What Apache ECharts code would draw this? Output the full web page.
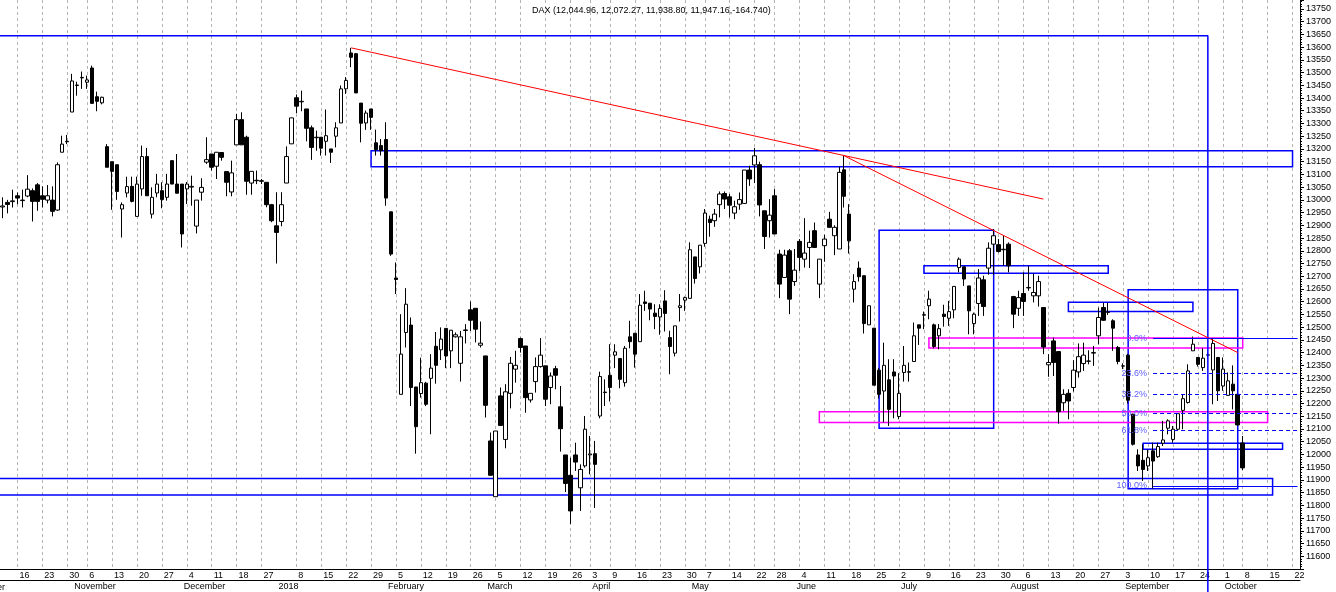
<!DOCTYPE html>
<html>
<head>
<meta charset="utf-8">
<script src="https://cdn.jsdelivr.net/npm/echarts@6.0.0/dist/echarts.min.js"></script>
<style>
    html, body {margin: 0; padding: 0; background: #fff;}
    #chart {width: 1336px; height: 592px;}
</style>
</head>
<body>
<div id="chart"></div>
<script>
// exchange holidays (no candle on these days)
var holidays = ['2017-10-31', '2017-12-25', '2017-12-26', '2018-01-01', '2018-03-30',
    '2018-04-02', '2018-05-01', '2018-05-21', '2018-10-03'];
var noWeekMark = ['2018-01-02'];
var monthNames = ['January', 'February', 'March', 'April', 'May', 'June', 'July',
    'August', 'September', 'October', 'November', 'December'];

// daily DAX candles from 2017-10-11, [open, close, low, high]
var candles = [
    [12972, 12976, 12928, 13010], [12990, 12982, 12947, 13000], [12993, 12996, 12970, 13040],
    [13016, 13007, 12983, 13029], [12997, 12999, 12970, 13040], [13015, 13042, 13010, 13097],
    [13036, 12994, 12915, 13045], [13059, 12994, 12957, 13066], [13016, 13002, 12970, 13053],
    [12999, 13016, 12986, 13058], [12999, 12955, 12935, 13053], [12960, 13138, 12957, 13147],
    [13187, 13219, 13187, 13252], [13228, 13230, 13219, 13255], [13345, 13467, 13345, 13495],
    [13451, 13449, 13409, 13464], [13479, 13481, 13436, 13504], [13462, 13471, 13436, 13488],
    [13518, 13379, 13377, 13527], [13405, 13387, 13348, 13425], [13381, 13403, 13375, 13405],
    [13209, 13128, 13128, 13219], [13150, 13112, 12961, 13150], [13138, 13033, 13000, 13138],
    [12964, 12981, 12852, 12990], [13027, 13052, 13010, 13091], [13053, 12994, 12990, 13091],
    [12935, 13062, 12935, 13091], [13043, 13170, 13016, 13213], [13170, 13016, 13016, 13204],
    [12944, 13010, 12927, 13049], [13027, 13062, 13010, 13102], [13036, 13001, 12967, 13069],
    [13010, 13062, 12997, 13102], [13154, 13062, 13062, 13154], [13062, 13026, 13026, 13180],
    [13062, 12866, 12813, 13062], [13043, 13062, 12984, 13070], [13050, 13053, 12977, 13095],
    [12897, 12999, 12868, 12999], [13030, 13049, 12997, 13085], [13148, 13158, 13141, 13246],
    [13180, 13128, 13115, 13180], [13132, 13187, 13082, 13187], [13186, 13167, 13154, 13186],
    [13111, 13069, 13014, 13111], [13031, 13106, 13014, 13154], [13216, 13315, 13216, 13338],
    [13315, 13216, 13216, 13344], [13246, 13073, 13020, 13252], [13066, 13112, 13020, 13112],
    [13077, 13075, 13062, 13115], [13075, 13073, 13062, 13082], [13069, 12981, 12971, 13069],
    [12981, 12918, 12912, 12984], [12898, 12872, 12750, 13030], [12915, 12981, 12896, 13030],
    [13066, 13170, 13066, 13210], [13220, 13322, 13220, 13322], [13401, 13368, 13340, 13414],
    [13385, 13387, 13348, 13429], [13357, 13281, 13230, 13357], [13283, 13206, 13157, 13292],
    [13244, 13246, 13193, 13272], [13246, 13203, 13174, 13246], [13230, 13252, 13174, 13355],
    [13200, 13187, 13145, 13200], [13250, 13283, 13206, 13305], [13302, 13436, 13302, 13449],
    [13436, 13469, 13416, 13482], [13577, 13560, 13521, 13597], [13574, 13420, 13420, 13577],
    [13380, 13301, 13226, 13380], [13302, 13341, 13275, 13351], [13357, 13324, 13275, 13357],
    [13224, 13197, 13174, 13276], [13213, 13193, 13174, 13239], [13237, 13007, 12977, 13305],
    [12953, 12787, 12780, 12953], [12693, 12687, 12630, 12754], [12236, 12394, 12236, 12551],
    [12479, 12590, 12420, 12653], [12508, 12263, 12190, 12538], [12265, 12109, 12003, 12265],
    [12239, 12282, 12223, 12380], [12280, 12197, 12190, 12285], [12299, 12339, 12079, 12394],
    [12425, 12350, 12278, 12481], [12411, 12453, 12371, 12499], [12495, 12387, 12339, 12495],
    [12407, 12488, 12339, 12488], [12462, 12470, 12459, 12479], [12358, 12462, 12286, 12485],
    [12487, 12489, 12436, 12512], [12568, 12527, 12485, 12601], [12574, 12492, 12440, 12574],
    [12429, 12437, 12420, 12522], [12387, 12193, 12145, 12387], [12053, 11918, 11918, 12086],
    [11834, 12092, 11834, 12092], [12230, 12114, 12114, 12263], [12059, 12246, 12024, 12276],
    [12240, 12358, 12181, 12383], [12335, 12350, 12282, 12407], [12455, 12420, 12400, 12459],
    [12426, 12223, 12164, 12426], [12214, 12240, 12204, 12240], [12286, 12345, 12243, 12381],
    [12345, 12390, 12341, 12457], [12348, 12217, 12190, 12348], [12263, 12308, 12197, 12322],
    [12337, 12311, 12256, 12348], [12187, 12101, 12011, 12269], [11998, 11886, 11852, 11998],
    [11918, 11778, 11727, 11987], [11998, 11970, 11935, 12046], [11869, 11941, 11778, 11961],
    [11955, 12099, 11948, 12151], [11998, 12002, 11922, 12073], [12003, 11961, 11790, 12053],
    [12151, 12306, 12142, 12325], [12245, 12243, 12190, 12295], [12311, 12263, 12208, 12433],
    [12390, 12403, 12339, 12433], [12377, 12295, 12260, 12377], [12282, 12417, 12266, 12426],
    [12462, 12443, 12417, 12525], [12476, 12394, 12341, 12476], [12443, 12586, 12443, 12630],
    [12599, 12593, 12564, 12643], [12594, 12571, 12527, 12594], [12555, 12542, 12492, 12590],
    [12540, 12573, 12470, 12590], [12603, 12554, 12483, 12645], [12459, 12424, 12315, 12486],
    [12398, 12505, 12385, 12505], [12577, 12584, 12522, 12630], [12606, 12616, 12564, 12620],
    [12613, 12804, 12613, 12833], [12776, 12691, 12671, 12776], [12737, 12822, 12711, 12822],
    [12829, 12948, 12816, 12964], [12924, 12911, 12855, 12938], [12918, 12944, 12894, 12964],
    [12981, 13023, 12931, 13033], [13025, 13003, 12964, 13033], [13012, 12979, 12931, 13023],
    [12948, 12973, 12924, 12997], [12983, 13001, 12961, 13029], [12986, 13117, 12986, 13117],
    [13117, 13082, 13055, 13134], [13137, 13173, 13066, 13204], [13138, 12980, 12935, 13150],
    [12957, 12856, 12807, 12957], [12918, 12940, 12852, 13003], [13016, 12866, 12866, 13042],
    [12787, 12669, 12614, 12804], [12695, 12783, 12695, 12804], [12800, 12610, 12551, 12807],
    [12679, 12724, 12662, 12807], [12837, 12774, 12721, 12846], [12767, 12791, 12734, 12928],
    [12813, 12833, 12732, 12879], [12879, 12813, 12813, 12911], [12669, 12767, 12614, 12767],
    [12820, 12846, 12757, 12863], [12924, 12892, 12892, 12953], [12859, 12892, 12783, 12900],
    [12807, 13108, 12807, 13130], [13118, 13014, 12970, 13173], [12944, 12839, 12789, 12983],
    [12649, 12679, 12597, 12708], [12732, 12698, 12679, 12758], [12702, 12514, 12475, 12702],
    [12509, 12584, 12509, 12584], [12496, 12272, 12272, 12496], [12331, 12236, 12220, 12340],
    [12249, 12350, 12125, 12439], [12293, 12177, 12112, 12374], [12324, 12308, 12142, 12374],
    [12149, 12240, 12138, 12319], [12322, 12350, 12286, 12426], [12323, 12325, 12286, 12361],
    [12365, 12466, 12365, 12518], [12509, 12496, 12430, 12509], [12547, 12549, 12492, 12561],
    [12584, 12610, 12531, 12643], [12509, 12424, 12417, 12514], [12466, 12494, 12413, 12512],
    [12551, 12542, 12502, 12588], [12535, 12561, 12505, 12603], [12568, 12660, 12535, 12660],
    [12734, 12767, 12715, 12774], [12737, 12689, 12662, 12737], [12662, 12564, 12472, 12662],
    [12514, 12551, 12472, 12557], [12593, 12693, 12544, 12728], [12686, 12581, 12544, 12702],
    [12732, 12810, 12706, 12833], [12826, 12859, 12706, 12885], [12824, 12797, 12793, 12846],
    [12804, 12806, 12741, 12859], [12826, 12741, 12715, 12833], [12620, 12551, 12496, 12623],
    [12574, 12616, 12544, 12643], [12632, 12601, 12544, 12715], [12654, 12656, 12643, 12741],
    [12623, 12636, 12597, 12711], [12623, 12679, 12581, 12702], [12577, 12422, 12394, 12577],
    [12352, 12361, 12305, 12394], [12446, 12361, 12308, 12459], [12404, 12168, 12121, 12404],
    [12203, 12236, 12171, 12256], [12240, 12210, 12138, 12256], [12263, 12331, 12247, 12370],
    [12324, 12384, 12302, 12436], [12357, 12390, 12328, 12439], [12366, 12367, 12354, 12409],
    [12398, 12400, 12348, 12426], [12466, 12538, 12433, 12577], [12577, 12527, 12525, 12597],
    [12558, 12560, 12548, 12597], [12525, 12496, 12407, 12531], [12420, 12365, 12354, 12426],
    [12347, 12348, 12335, 12358], [12390, 12213, 12200, 12395], [12158, 12040, 12035, 12160],
    [11998, 11955, 11935, 12020], [11977, 11941, 11896, 12040], [11955, 11987, 11935, 12020],
    [12014, 11974, 11866, 12046], [11991, 12031, 11987, 12046], [12044, 12057, 12033, 12132],
    [12103, 12132, 12079, 12138], [12059, 12099, 12046, 12112], [12099, 12160, 12092, 12160],
    [12173, 12219, 12099, 12236], [12204, 12328, 12200, 12354], [12407, 12433, 12407, 12463],
    [12381, 12354, 12345, 12381], [12341, 12378, 12328, 12417], [12390, 12391, 12380, 12400],
    [12332, 12436, 12197, 12457], [12381, 12250, 12210, 12381], [12269, 12335, 12250, 12381],
    [12232, 12289, 12230, 12322], [12276, 12250, 12177, 12350], [12236, 12116, 12112, 12236],
    [12044.96, 11947.16, 11938.80, 12072.27]
];

// drawings on the chart, as [date, price] pairs
var trendLines = [
    [['2018-01-23', 13597], ['2018-08-10', 13003]],
    [['2018-06-15', 13173], ['2018-10-05', 12400]]
];
var blueBoxes = [
    [['2018-01-29', 13193], ['2018-10-22', 13130]],
    [['2018-07-09', 12741], ['2018-08-29', 12712]],
    [['2018-08-17', 12598], ['2018-09-21', 12561]],
    [['2018-06-26', 12881], ['2018-07-27', 12103]],
    [['2018-09-04', 12647], ['2018-10-05', 11865]],
    [['2018-09-07', 12044], ['2018-10-18', 12020]],
    [['2017-10-10', 11905], ['2018-10-16', 11841]]
];
var pinkBoxes = [
    [['2018-07-10', 12457], ['2018-10-08', 12418]],
    [['2018-06-08', 12168], ['2018-10-15', 12125]]
];
var frameLine = [['2017-10-10', 13645], ['2018-09-26', 13645], ['2018-09-26', 11460]];
var fibStart = '2018-09-11';
var fibEnd = '2018-10-23';
var fibLevels = [12457, 12318, 12236, 12162, 12095, 11876];
var fibNames = ['0.0%', '23.6%', '38.2%', '50.0%', '61.8%', '100.0%'];

// trading days; the axis starts one day before the first candle, just off the left edge
var days = [];
(function () {
    var d = new Date(Date.UTC(2017, 9, 10));
    var end = new Date(Date.UTC(2018, 9, 23));
    while (d <= end) {
        var s = d.toISOString().slice(0, 10);
        var wd = d.getUTCDay();
        if (wd !== 0 && wd !== 6 && holidays.indexOf(s) < 0) days.push(s);
        d.setUTCDate(d.getUTCDate() + 1);
    }
})();

var isWeek = [], isMonth = [];
for (var i = 0; i < days.length; i++) {
    var wdNow = new Date(days[i] + 'T00:00:00Z').getUTCDay();
    var wdPrev = i > 0 ? new Date(days[i - 1] + 'T00:00:00Z').getUTCDay() : 9;
    isWeek.push(i > 0 && wdNow <= wdPrev && noWeekMark.indexOf(days[i]) < 0);
    isMonth.push(i > 0 && days[i].slice(5, 7) !== days[i - 1].slice(5, 7));
}

var markAreaData = [];
blueBoxes.forEach(function (b) {
    markAreaData.push([{coord: b[0], itemStyle: {borderColor: '#0000ff'}}, {coord: b[1]}]);
});
pinkBoxes.forEach(function (b) {
    markAreaData.push([{coord: b[0], itemStyle: {borderColor: '#ff00ff'}}, {coord: b[1]}]);
});

var markLineData = [];
trendLines.forEach(function (t) {
    markLineData.push([{coord: t[0], lineStyle: {color: '#ff0000', width: 1, type: 'solid'}, label: {show: false}},
        {coord: t[1]}]);
});
fibLevels.forEach(function (v, k) {
    var solid = (k === 0 || k === fibLevels.length - 1);
    markLineData.push([{
        coord: [fibStart, v],
        lineStyle: {color: '#0000ff', width: solid ? 1 : 1.2, type: solid ? 'solid' : [4, 3]},
        label: {show: true, position: 'start', formatter: fibNames[k], color: '#6060ff', fontSize: 9, distance: 6}
    }, {coord: [fibEnd, v]}]);
});

var font = 'Liberation Sans';

var myChart = echarts.init(document.getElementById('chart'));
myChart.setOption({
    animation: false,
    textStyle: {fontFamily: font},
    title: {
        text: 'DAX (12,044.96, 12,072.27, 11,938.80, 11,947.16,-164.740)',
        left: 527, top: 1,
        textStyle: {fontSize: 9, fontWeight: 'normal', color: '#000', fontFamily: font}
    },
    grid: {left: -5, right: 36, top: 0, bottom: 23, containLabel: false, outerBoundsMode: 'none'},
    xAxis: [
        {
            type: 'category',
            data: days,
            boundaryGap: true,
            axisLine: {lineStyle: {color: '#000', width: 1}},
            axisTick: {
                interval: function (i) { return isWeek[i] || isMonth[i]; },
                length: 11, alignWithLabel: true, lineStyle: {color: '#000'}
            },
            axisLabel: {
                interval: function (i) { return isWeek[i]; },
                formatter: function (v) { return String(+v.slice(8)); },
                align: 'left', verticalAlign: 'top', margin: 2, padding: [0, 0, 0, 2],
                fontSize: 9, color: '#000', fontFamily: font
            },
            splitLine: {
                show: true,
                interval: function (i) { return isWeek[i]; },
                alignWithLabel: true,
                lineStyle: {color: '#b4b4b4', width: 1, type: [3, 3]}
            }
        },
        {
            type: 'category',
            data: days,
            position: 'bottom',
            offset: 11,
            boundaryGap: true,
            axisLine: {lineStyle: {color: '#000', width: 1}},
            axisTick: {
                interval: function (i) { return isMonth[i]; },
                length: 12, alignWithLabel: true, lineStyle: {color: '#000'}
            },
            axisLabel: {
                interval: function (i) { return isMonth[i]; },
                formatter: function (v) {
                    var m = +v.slice(5, 7);
                    return m === 1 ? v.slice(0, 4) : monthNames[m - 1];
                },
                align: 'left', verticalAlign: 'top', margin: 2, padding: [0, 0, 0, 2],
                fontSize: 9, color: '#000', fontFamily: font
            },
            splitLine: {show: false}
        }
    ],
    yAxis: {
        type: 'value',
        position: 'right',
        min: 11550,
        max: 13785,
        interval: 50,
        axisLine: {show: true, lineStyle: {color: '#000'}},
        axisTick: {show: true, length: 4, lineStyle: {color: '#000'}},
        minorTick: {show: true, splitNumber: 5, length: 2, lineStyle: {color: '#000'}},
        axisLabel: {
            fontSize: 9, color: '#000', margin: 6, fontFamily: font,
            showMinLabel: false, showMaxLabel: false,
            formatter: function (v) { return String(v); }
        },
        splitLine: {show: false}
    },
    graphic: [
        {type: 'text', x: -27, y: 583, style: {text: 'October', font: '9px ' + font, fill: '#000'}}
    ],
    series: [
        {
            type: 'candlestick',
            data: ['-'].concat(candles),
            barWidth: 4,
            itemStyle: {
                color: '#ffffff',
                color0: '#000000',
                borderColor: '#000000',
                borderColor0: '#000000',
                borderColorDoji: '#000000',
                borderWidth: 1
            },
            markArea: {
                silent: true,
                itemStyle: {color: 'rgba(0,0,0,0)', borderWidth: 1.5, borderColor: '#0000ff'},
                label: {show: false},
                emphasis: {disabled: true},
                data: markAreaData
            },
            markLine: {
                silent: true,
                symbol: ['none', 'none'],
                animation: false,
                emphasis: {disabled: true},
                data: markLineData
            }
        },
        {
            type: 'line',
            data: frameLine,
            symbol: 'none',
            silent: true,
            clip: false,
            lineStyle: {color: '#0000ff', width: 1.5}
        }
    ]
});
</script>
</body>
</html>
